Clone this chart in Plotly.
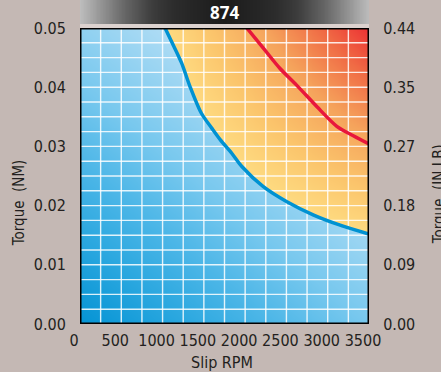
import numpy as np
import plotly.graph_objects as go

# axis ticks
rpm_ticks = [0, 500, 1000, 1500, 2000, 2500, 3000, 3500]
nm_ticks = [0.00, 0.01, 0.02, 0.03, 0.04, 0.05]
nm_labels = ["0.00", "0.01", "0.02", "0.03", "0.04", "0.05"]
inlb_labels = ["0.00", "0.09", "0.18", "0.27", "0.35", "0.44"]

# blue curve
blue_rpm = [1030, 1130, 1230, 1330, 1470, 1600, 1700, 1840, 1960, 2220, 2500, 2830, 3150, 3500]
blue_nm = [0.0500, 0.0471, 0.0441, 0.0402, 0.0356, 0.0330, 0.0311, 0.0288, 0.0266,
           0.0232, 0.0207, 0.0184, 0.0167, 0.0152]

# red curve
red_rpm = [2020, 2220, 2420, 2640, 2870, 3110, 3310, 3500]
red_nm = [0.0500, 0.0466, 0.0432, 0.0401, 0.0367, 0.0334, 0.0318, 0.0304]

title_text = "874"

FONT = "DejaVu Sans Condensed, sans-serif"
INK = "#231f20"
BG = "#c4b8b4"

# background shading: blue below the blue curve, warm above it
gx = np.linspace(0, 3500, 300)
gy = np.linspace(0, 0.05, 300)
X, Y = np.meshgrid(gx, gy)
limit = np.interp(X, blue_rpm, blue_nm)
cool = np.clip((0.45 * X / 3500 + 0.55 * Y / 0.05) / 0.68, 0, 0.98)
warm = 1.02 + 0.98 * np.clip((X * Y - 50) / 125, 0, 1)
z = np.where(Y > limit, warm, cool)

scale = [
    [0.0, "#0493d4"], [0.12, "#2aa7df"], [0.22, "#4cb6e7"], [0.33, "#78c8ee"],
    [0.49, "#acdbf4"], [0.51, "#fedc82"], [0.62, "#fbc56c"], [0.75, "#f5a45c"],
    [0.88, "#f06c45"], [1.0, "#ec2f33"],
]

fig = go.Figure()
fig.add_trace(go.Heatmap(x=gx, y=gy, z=z, zmin=0, zmax=2, colorscale=scale,
                         showscale=False, hoverinfo="skip"))

# grid over the shading
gl_x, gl_y = [], []
for v in np.arange(250, 3500, 250):
    gl_x += [v, v, None]
    gl_y += [0, 0.05, None]
for v in np.arange(0.0025, 0.05, 0.0025):
    gl_x += [0, 3500, None]
    gl_y += [v, v, None]
fig.add_trace(go.Scatter(x=gl_x, y=gl_y, mode="lines", hoverinfo="skip",
                         line=dict(color="rgba(255,255,255,0.85)", width=1.4),
                         showlegend=False))

fig.add_trace(go.Scatter(x=blue_rpm, y=blue_nm, mode="lines", line_shape="spline",
                         line=dict(color="#0092d2", width=3.5, smoothing=0.8), showlegend=False))
fig.add_trace(go.Scatter(x=red_rpm, y=red_nm, mode="lines", line_shape="spline", yaxis="y2",
                         line=dict(color="#e8173c", width=3.5, smoothing=0.8), showlegend=False))

# dark title bar
bar_x = np.linspace(0, 1, 200)
fig.add_trace(go.Heatmap(x=bar_x, y=[0, 1], z=[np.abs(bar_x - 0.5) * 2] * 2,
                         xaxis="x3", yaxis="y3", zmin=0, zmax=1, zsmooth="best",
                         colorscale=[[0, "#1b1b1b"], [0.35, "#2c2c2c"], [0.5, "#3c3c3c"],
                                     [0.7, "#686868"], [0.85, "#929292"], [1, "#bdbdbd"]],
                         showscale=False, hoverinfo="skip"))

tick_font = dict(family=FONT, size=16, color=INK)
fig.update_layout(
    width=441, height=372,
    margin=dict(l=80, r=72, t=0, b=48, autoexpand=False),
    paper_bgcolor=BG, plot_bgcolor=BG,
    xaxis=dict(range=[0, 3500], tickvals=rpm_ticks, showgrid=False, zeroline=False,
               ticks="outside", ticklen=2, tickcolor="rgba(0,0,0,0)", tickfont=tick_font,
               tickangle=0, ticklabelshift=-6, automargin=False),
    yaxis=dict(range=[0, 0.05], domain=[0, 296 / 324], tickvals=nm_ticks, ticktext=nm_labels,
               showgrid=False, zeroline=False, ticks="outside", ticklen=10,
               tickcolor="rgba(0,0,0,0)", tickfont=tick_font, automargin=False),
    yaxis2=dict(range=[0, 0.05], domain=[0, 296 / 324], overlaying="y", side="right",
                tickvals=nm_ticks, ticktext=inlb_labels, showgrid=False, zeroline=False,
                ticks="outside", ticklen=10, tickcolor="rgba(0,0,0,0)", tickfont=tick_font,
                automargin=False),
    xaxis3=dict(domain=[0, 1], range=[0, 1], visible=False, anchor="y3"),
    yaxis3=dict(domain=[300 / 324, 1], range=[0, 1], visible=False, anchor="x3"),
    showlegend=False,
)

fig.add_shape(type="rect", xref="paper", yref="paper", x0=0, x1=1, y0=296 / 324, y1=300 / 324,
              fillcolor="#dcd2cf", line_width=0, layer="above")
fig.add_shape(type="rect", xref="x", yref="y", x0=0, x1=3500, y0=0, y1=0.05,
              line=dict(color="black", width=3), layer="above")

fig.add_annotation(text="<b>" + title_text + "</b>", xref="paper", yref="paper", x=0.5, y=0.962,
                   xanchor="center", yanchor="middle", showarrow=False,
                   font=dict(family="Open Sans, sans-serif", size=17, color="white"))
fig.add_annotation(text="Slip RPM", xref="paper", yref="paper", x=0.491, y=-0.12,
                   xanchor="center", yanchor="middle", showarrow=False,
                   font=dict(family=FONT, size=16, color=INK))
fig.add_annotation(text="Torque  (NM)", xref="paper", yref="paper", x=-0.211, y=0.373,
                   xanchor="center", yanchor="middle", textangle=-90, showarrow=False,
                   font=dict(family=FONT, size=15, color=INK))
fig.add_annotation(text="Torque  (IN LB)", xref="paper", yref="paper", x=1.245, y=0.40,
                   xanchor="center", yanchor="middle", textangle=-90, showarrow=False,
                   font=dict(family=FONT, size=15, color=INK))

fig.write_html("out.html", config={"displayModeBar": False},
               post_script="document.body.style.margin='0';")
